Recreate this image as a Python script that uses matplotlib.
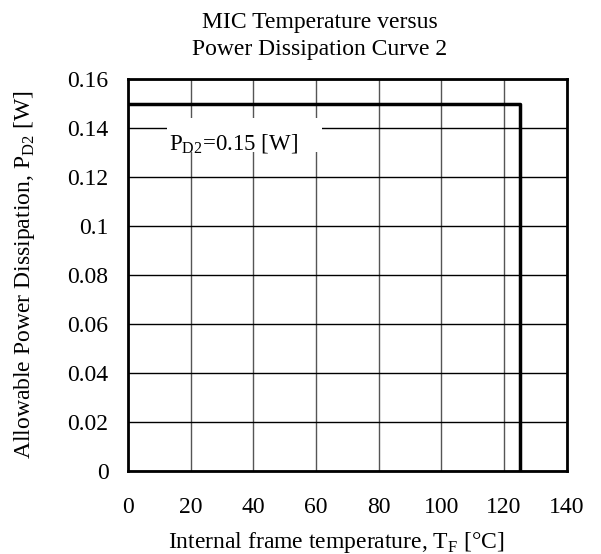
import matplotlib
matplotlib.use("Agg")
import matplotlib.pyplot as plt
from matplotlib.patches import Rectangle

plt.rcParams["font.family"] = ["Liberation Serif", "DejaVu Serif"]
plt.rcParams["mathtext.fontset"] = "custom"
plt.rcParams["mathtext.rm"] = "Liberation Serif"

# derating curve: flat at 0.15 W up to 125 degC, then drops to zero
temp = [0, 125, 125]
power = [0.15, 0.15, 0]

x_ticks = [0, 20, 40, 60, 80, 100, 120, 140]
y_ticks = [0, 0.02, 0.04, 0.06, 0.08, 0.1, 0.12, 0.14, 0.16]
y_tick_labels = ["0", "0.02", "0.04", "0.06", "0.08", "0.1", "0.12", "0.14", "0.16"]

fs = 17

fig = plt.figure(figsize=(6.01, 5.54), dpi=100)
ax = fig.add_axes([0.213, 0.150, 0.730, 0.707])

ax.set_xlim(0, 140)
ax.set_ylim(0, 0.16)
ax.set_xticks(x_ticks)
ax.set_xticklabels([str(v) for v in x_ticks])
ax.set_yticks(y_ticks)
ax.set_yticklabels(y_tick_labels)
ax.tick_params(axis="both", length=0, labelsize=fs)
ax.tick_params(axis="y", pad=14)
ax.tick_params(axis="x", pad=19)

ax.grid(axis="x", color="#555555", linewidth=1.0)
ax.grid(axis="y", color="black", linewidth=1.0)
ax.set_axisbelow(True)
for sp in ax.spines.values():
    sp.set_linewidth(2.0)

ax.plot(temp, power, color="black", linewidth=2.5, zorder=3)

# white label box over the grid
ax.add_patch(Rectangle((12.5, 0.1302), 49.5, 0.0139, facecolor="white", edgecolor="none", zorder=2))
ax.text(13.1, 0.131, r"P$_{\mathrm{D2}}$=0.15 [W]", fontsize=16.5, va="baseline", ha="left", zorder=4)

fig.text(0.532, 0.9495, "MIC Temperature versus", ha="center", va="baseline", fontsize=fs)
fig.text(0.532, 0.9007, "Power Dissipation Curve 2", ha="center", va="baseline", fontsize=fs)
fig.text(0.559, 0.0108, r"Internal frame temperature, T$_{\mathrm{F}}$ [°C]",
         ha="center", va="baseline", fontsize=fs)
fig.text(0.040, 0.5036, r"Allowable Power Dissipation, P$_{\mathrm{D2}}$ [W]",
         ha="center", va="center", rotation=90, fontsize=fs)

fig.savefig("out.png", dpi=100)
